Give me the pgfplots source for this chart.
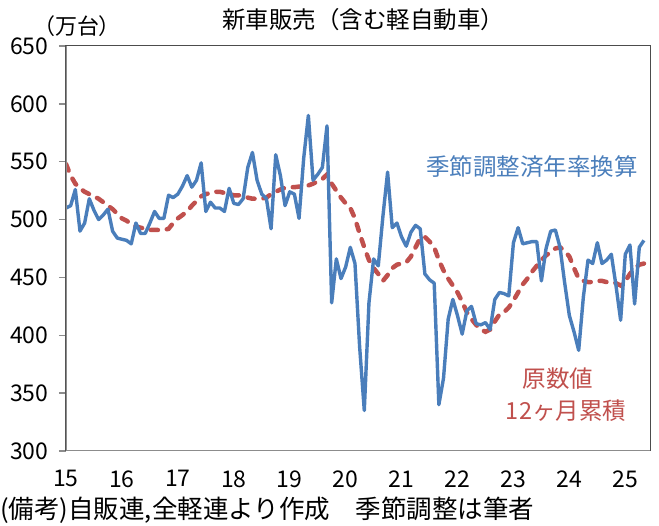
\documentclass[border=0pt]{standalone}
\usepackage{pgfplots}
\pgfplotsset{compat=1.18}
\usepackage{pgfplotstable}
\usepackage{fontspec}
\setmainfont{Noto Sans CJK JP}
\definecolor{sablue}{HTML}{4A7EBB}
\definecolor{cumred}{HTML}{C0504D}
\pgfplotstableread{
m sa cum
0 510 548
1 512 538
2 526 531
3 490 527
4 497 524
5 518 522
6 508 520
7 500 518
8 504 515
9 509 512
10 490 509
11 484 505
12 483 501
13 482 499
14 479 496
15 497 494
16 488 493
17 488 492
18 497 491
19 507 491
20 501 491
21 501 491
22 521 492
23 519 497
24 522 501
25 529 504
26 538 507
27 528 512
28 534 516
29 549 520
30 507 522
31 515 523
32 510 524
33 510 524
34 507 523
35 527 522
36 514 521
37 513 521
38 518 520
39 545 519
40 558 518
41 534 518
42 522 518
43 518 519
44 492 522
45 556 524
46 538 526
47 512 527.5
48 524 528
49 522 528
50 501 528.5
51 553 529
52 590 529.5
53 534 531
54 539 533
55 545 535
56 581 539
57 428 531
58 466 525
59 449 519
60 459 514
61 476 510
62 462 501
63 390 488
64 335 476
65 428 465
66 466 458
67 460 453
68 503 447
69 541 452
70 493 458
71 497 461
72 485 462
73 477 463
74 489 468
75 495 476
76 492 484
77 453 485
78 448 481
79 445 476
80 340 465
81 363 456
82 414 449
83 431 443
84 417 437
85 401 429
86 421 420
87 425 414
88 410 409
89 409 405
90 411 403
91 405 405
92 431 412
93 437 418
94 436 420
95 434 424
96 480 430
97 493 437
98 479 444
99 480 449
100 481 455
101 481 460
102 447 465
103 475 469
104 490 472
105 491 475
106 476 476
107 445 473
108 417 468
109 403 458
110 387 449
111 433 447
112 465 446
113 462 446
114 480 447
115 462 447
116 465 446
117 470 446
118 443 445
119 413 443
120 470 447
121 478 453
122 427 458
123 476 461
124 482 462
}\datatable
\begin{document}
\begin{tikzpicture}[x=1pt,y=1pt]
\path[use as bounding box] (0,0) rectangle (659,526);
\begin{axis}[
  at={(66pt,75pt)}, anchor=south west,
  scale only axis, width=584pt, height=405pt,
  xmin=0, xmax=125.3, ymin=300, ymax=650,
  xtick={0,12,...,120},
  xticklabels={15,16,17,18,19,20,21,22,23,24,25},
  ytick={300,350,...,650},
  ytick pos=left, tick align=outside,
  major tick length=7pt,
  xtick style={draw=none},
  ytick style={draw=gray!90, line width=1.5pt},
  axis line style={draw=black!70, line width=1pt},
  /pgf/number format/assume math mode=true,
  tick label style={font=\fontsize{23}{26}\selectfont, text=black},
  yticklabel style={xshift=-7pt},
  xticklabel style={yshift=-9pt},
  clip=true,
]
\addplot[cumred, line width=4.5pt, line cap=round, dash pattern=on 7pt off 9pt] table[x=m,y=cum]{\datatable};
\addplot[sablue, line width=3.4pt, line join=round] table[x=m,y=sa]{\datatable};
\draw[gray!90, line width=2pt] (rel axis cs:0,0) -- (rel axis cs:0,1);
\draw[gray!90, line width=2pt] (rel axis cs:0,0) -- (rel axis cs:1,0);
\end{axis}
\node[inner sep=0pt, font=\fontsize{23.5}{26}\selectfont] at (363,506) {新車販売（含む軽自動車）};
\node[inner sep=0pt, font=\fontsize{22}{26}\selectfont] at (77,500) {（万台）};
\node[inner sep=0pt, text=sablue, font=\fontsize{23.5}{26}\selectfont] at (532,359) {季節調整済年率換算};
\node[inner sep=0pt, text=cumred, font=\fontsize{23.5}{26}\selectfont] at (558,147) {原数値};
\node[inner sep=0pt, text=cumred, font=\fontsize{23.5}{26}\selectfont] at (566,115) {12ヶ月累積};
\node[inner sep=0pt, anchor=west, font=\fontsize{25.5}{28}\selectfont] at (0,16) {(備考)自販連,全軽連より作成\hspace{1em}季節調整は筆者};
\end{tikzpicture}
\end{document}
